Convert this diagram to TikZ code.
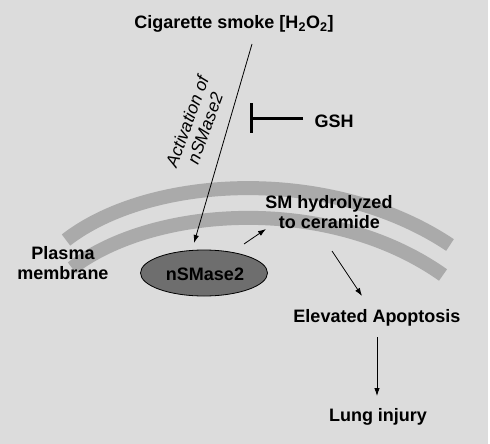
\documentclass[tikz,border=0pt]{standalone}
\usepackage{fontspec}
\setmainfont{Liberation Sans}
\usetikzlibrary{arrows.meta,shapes.geometric}
\definecolor{bg}{HTML}{DCDCDC}
\definecolor{band}{HTML}{AAAAAA}
\definecolor{enz}{HTML}{6E6E6E}
\tikzset{
  lbl/.style={font=\fontsize{18}{20}\selectfont\bfseries, inner sep=0pt, anchor=base},
  conn/.style={line width=0.8pt, -{Latex[length=8pt,width=5.5pt]}},
  memb/.style={band, line width=14pt},
}
\begin{document}
\begin{tikzpicture}[x=1pt,y=-1pt]
\useasboundingbox (0,0) rectangle (490,444);
\fill[white] (0,0) rectangle (490,444);
\fill[bg] (0,0) rectangle (488,444);
% membrane
\draw[memb] (66,240) .. controls (150,175) and (330,165) .. (450,245);
\draw[memb] (72,268) .. controls (155,205) and (330,195) .. (443,275);
% nodes
\node[lbl] (smoke) at (234,28.5) {Cigarette smoke [H\textsubscript{2}O\textsubscript{2}]};
\node[lbl] (gsh) at (334,127) {GSH};
\node[lbl] (pm1) at (63,259.5) {Plasma};
\node[lbl] (pm2) at (63,279.5) {membrane};
\node[lbl] (sm1) at (329,208.5) {SM hydrolyzed};
\node[lbl] (sm2) at (329.5,228.5) {to ceramide};
\node[draw=black, line width=0.8pt, fill=enz, ellipse, minimum width=127pt, minimum height=46pt, inner sep=0pt] (ens) at (204,273) {};
\node[lbl] (enslbl) at (205,280.5) {nSMase2};
\node[lbl] (apo) at (377,322.5) {Elevated Apoptosis};
\node[lbl] (lung) at (378,421) {Lung injury};
\node[font=\fontsize{17.5}{20}\selectfont\itshape, align=center, rotate=70, inner sep=0pt] (act) at (196,125) {Activation of\\[-1pt]nSMase2};
% connectors
\coordinate (s0) at (252,44);
\coordinate (s1) at (194,243);
\draw[conn] (s0) -- (s1);
\coordinate (h0) at (244,244);
\coordinate (h1) at (266,229);
\draw[conn] (h0) -- (h1);
\coordinate (a0) at (332,251);
\coordinate (a1) at (362,296);
\draw[conn] (a0) -- (a1);
\coordinate (l0) at (377,337);
\coordinate (l1) at (377,396);
\draw[conn] (l0) -- (l1);
% inhibition
\coordinate (t0) at (303,118);
\coordinate (t1) at (251,118);
\coordinate (b0) at (251,103);
\coordinate (b1) at (251,133);
\draw[line width=3pt] (t0) -- (t1);
\draw[line width=3pt] (b0) -- (b1);
\end{tikzpicture}
\end{document}
